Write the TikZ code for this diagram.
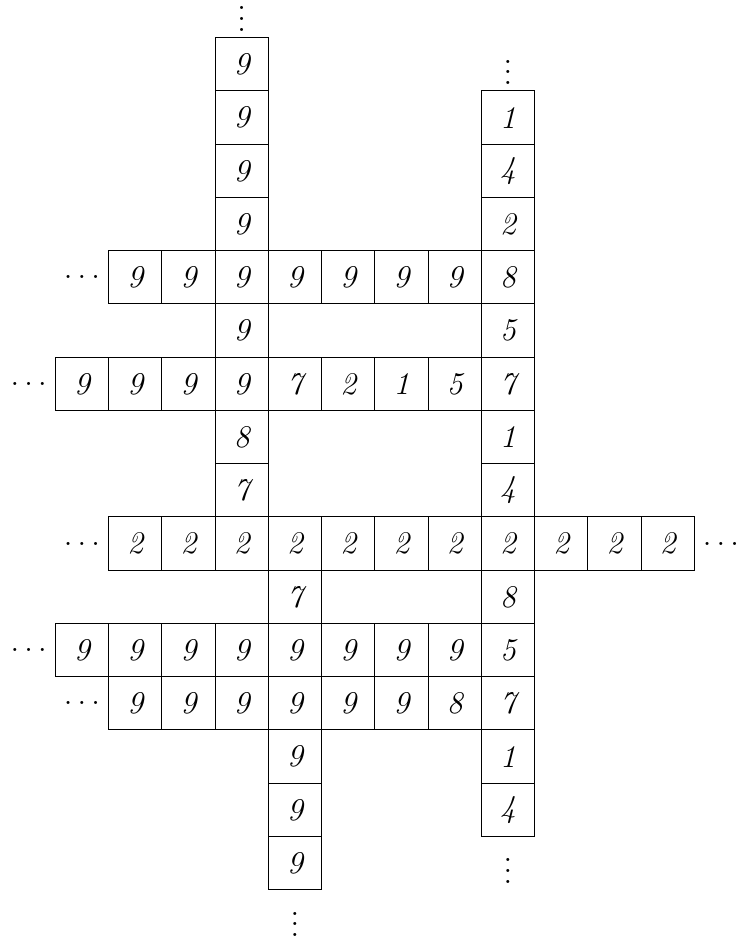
\documentclass[tikz,border=0pt]{standalone}
\newcommand{\mydots}{.\kern1.96pt.\kern1.96pt.}
\begin{document}
\begin{tikzpicture}[x=0.71cm,y=-0.71cm,
  cell/.style={draw,line width=0.4pt,minimum size=0.71cm,inner sep=0pt,
    font=\fontsize{12}{14}\selectfont\itshape},
  dotsnode/.style={inner sep=0pt,font=\fontsize{12}{14}\selectfont}]
\useasboundingbox (0,0) rectangle (13.822,17.596);
\begin{scope}[shift={(1.539,1.208)}]
% column c3 (top part)
\foreach \r/\d in {0/9,1/9,2/9,3/9,5/9,7/8,8/7}
  \node[cell] (a\r) at (3,\r) {\d};
% column c8
\foreach \r/\d in {1/1,2/4,3/2,5/5,7/1,8/4,10/8,13/1,14/4}
  \node[cell] (b\r) at (8,\r) {\d};
% column c4 (lower part)
\foreach \r/\d in {10/7,13/9,14/9,15/9}
  \node[cell] (c\r) at (4,\r) {\d};
% row 4
\foreach \d [count=\i from 1] in {9,9,9,9,9,9,9,8}
  \node[cell] (r4-\i) at (\i,4) {\d};
% row 6
\foreach \d [count=\i from 0] in {9,9,9,9,7,2,1,5,7}
  \node[cell] (r6-\i) at (\i,6) {\d};
% row 9
\foreach \d [count=\i from 1] in {2,2,2,2,2,2,2,2,2,2,2}
  \node[cell] (r9-\i) at (\i,9) {\d};
% row 11
\foreach \d [count=\i from 0] in {9,9,9,9,9,9,9,9,5}
  \node[cell] (r11-\i) at (\i,11) {\d};
% row 12
\foreach \d [count=\i from 1] in {9,9,9,9,9,9,8,7}
  \node[cell] (r12-\i) at (\i,12) {\d};
% horizontal dots
\node[dotsnode] (h4) at (0,4) {\mydots};
\node[dotsnode] (h6) at (-1,6) {\mydots};
\node[dotsnode] (h9l) at (0,9) {\mydots};
\node[dotsnode] (h9r) at (12,9) {\mydots};
\node[dotsnode] (h11) at (-1,11) {\mydots};
\node[dotsnode] (h12) at (0,12) {\mydots};
% vertical dots
\node[dotsnode] (v3) at (3,-1) {$\vdots$};
\node[dotsnode] (v8t) at (8,0) {$\vdots$};
\node[dotsnode] (v8b) at (8,15) {$\vdots$};
\node[dotsnode] (v4) at (4,16) {$\vdots$};
\end{scope}
\end{tikzpicture}
\end{document}
